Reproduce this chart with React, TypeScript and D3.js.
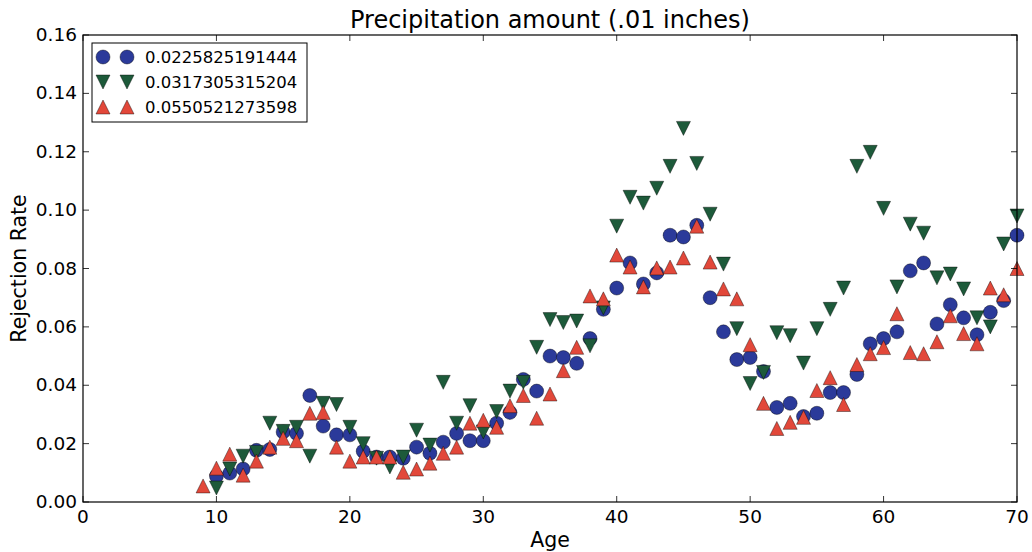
import React from "react";
import { scaleLinear, range } from "d3";

const ages = range(9, 71);

// null = no point at that age
const seriesBlue = [
  null, 0.0089, 0.0099, 0.0113, 0.0177, 0.018, 0.024, 0.0235, 0.0365, 0.026,
  0.023, 0.023, 0.0174, 0.0154, 0.0154, 0.015, 0.0188, 0.0167, 0.0205, 0.0235,
  0.021, 0.021, 0.027, 0.0307, 0.042, 0.038, 0.05, 0.0495, 0.0475, 0.056,
  0.066, 0.0733, 0.0819, 0.0747, 0.0785, 0.0914, 0.0908, 0.0948, 0.07, 0.0583,
  0.0488, 0.0495, 0.0447, 0.0324, 0.0338, 0.0293, 0.0304, 0.0375, 0.0375, 0.0437,
  0.0542, 0.056, 0.0583, 0.0792, 0.0819, 0.061, 0.0676, 0.0631, 0.0573, 0.065,
  0.069, 0.0914,
];
const seriesGreen = [
  null, 0.0048, 0.0113, 0.0157, 0.017, 0.027, 0.0242, 0.0256, 0.0157, 0.0338,
  0.0334, 0.0256, 0.02, 0.015, 0.012, 0.0154, 0.0246, 0.0195, 0.041, 0.027,
  0.033, 0.024, 0.031, 0.038, 0.041, 0.053, 0.0625, 0.0615, 0.062, 0.0535,
  0.0665, 0.0945, 0.1044, 0.1024, 0.1075, 0.115, 0.128, 0.116, 0.0986, 0.0815,
  0.0594, 0.0406, 0.0444, 0.058, 0.057, 0.0476, 0.0594, 0.066, 0.0733, 0.115,
  0.1198, 0.1006, 0.0737, 0.0952, 0.0921, 0.0768, 0.0781, 0.073, 0.0631, 0.06,
  0.0884, 0.098,
];
const seriesRed = [
  0.0055, 0.0116, 0.0164, 0.0092, 0.014, 0.0188, 0.0218, 0.021, 0.0304, 0.0307,
  0.0188, 0.014, 0.0154, 0.0154, 0.0154, 0.0102, 0.0113, 0.0133, 0.0167, 0.0188,
  0.027, 0.028, 0.0256, 0.033, 0.0365, 0.0287, 0.037, 0.045, 0.053, 0.0706,
  0.0696, 0.0846, 0.0805, 0.0737, 0.0802, 0.0805, 0.0836, 0.0945, 0.0822, 0.073,
  0.0696, 0.0539, 0.0338, 0.0252, 0.0273, 0.029, 0.0382, 0.0426, 0.0334, 0.0471,
  0.0508, 0.0529, 0.0645, 0.0512, 0.0508, 0.0549, 0.0638, 0.0577, 0.0542, 0.0733,
  0.071, 0.08,
];

const legendLabels = ["0.0225825191444", "0.0317305315204", "0.0550521273598"];
const xTicks = [0, 10, 20, 30, 40, 50, 60, 70];
const yTicks = [0, 0.02, 0.04, 0.06, 0.08, 0.1, 0.12, 0.14, 0.16];

const colors = ["#2b3a9a", "#1d5a3a", "#e2483a"];
const shapes = ["circle", "down", "up"];

const left = 83;
const right = 1017;
const top = 35;
const bottom = 502;
const font = "DejaVu Sans, sans-serif";

const Marker = ({ shape, x, y, color }: { shape: string; x: number; y: number; color: string }) => {
  const s = 7;
  if (shape === "circle") {
    return <circle cx={x} cy={y} r={7} fill={color} stroke="#000" strokeWidth={0.4} />;
  }
  const d =
    shape === "down"
      ? `M${x - s},${y - s}L${x + s},${y - s}L${x},${y + s}Z`
      : `M${x},${y - s}L${x - s},${y + s}L${x + s},${y + s}Z`;
  return <path d={d} fill={color} stroke="#000" strokeWidth={0.4} />;
};

export default function App() {
  const x = scaleLinear().domain([0, 70]).range([left, right]);
  const y = scaleLinear().domain([0, 0.16]).range([bottom, top]);
  const allSeries = [seriesBlue, seriesGreen, seriesRed];

  return (
    <svg
      width={1032}
      height={552}
      style={{ position: "absolute", left: 0, top: 0, background: "#fff" }}
      fontFamily={font}
    >
      <rect width={1032} height={552} fill="#fff" />

      {allSeries.map((series, si) =>
        series.map((v, i) =>
          v == null ? null : (
            <Marker key={`${si}-${i}`} shape={shapes[si]} x={x(ages[i])} y={y(v)} color={colors[si]} />
          )
        )
      )}

      {/* ticks, inside, on all four sides */}
      {xTicks.map((t) => (
        <g key={`xt${t}`}>
          <line x1={x(t)} x2={x(t)} y1={bottom} y2={bottom - 6} stroke="#000" strokeWidth={0.8} />
          <line x1={x(t)} x2={x(t)} y1={top} y2={top + 6} stroke="#000" strokeWidth={0.8} />
          <text x={x(t)} y={bottom + 21} fontSize={18.5} textAnchor="middle">
            {t}
          </text>
        </g>
      ))}
      {yTicks.map((t) => (
        <g key={`yt${t}`}>
          <line x1={left} x2={left + 6} y1={y(t)} y2={y(t)} stroke="#000" strokeWidth={0.8} />
          <line x1={right} x2={right - 6} y1={y(t)} y2={y(t)} stroke="#000" strokeWidth={0.8} />
          <text x={left - 6} y={y(t) + 6} fontSize={18.5} textAnchor="end">
            {t.toFixed(2)}
          </text>
        </g>
      ))}

      <rect x={left} y={top} width={right - left} height={bottom - top} fill="none" stroke="#000" strokeWidth={1.2} />

      {/* legend */}
      <rect x={92} y={43} width={215} height={79} fill="#fff" stroke="#000" strokeWidth={1} />
      {legendLabels.map((label, i) => (
        <g key={label}>
          <Marker shape={shapes[i]} x={103} y={57 + i * 25} color={colors[i]} />
          <Marker shape={shapes[i]} x={127} y={57 + i * 25} color={colors[i]} />
          <text x={145} y={57 + i * 25 + 6} fontSize={16.5}>
            {label}
          </text>
        </g>
      ))}

      <text x={(left + right) / 2} y={28} fontSize={24} textAnchor="middle">
        Precipitation amount (.01 inches)
      </text>
      <text x={(left + right) / 2} y={547} fontSize={20.5} textAnchor="middle">
        Age
      </text>
      <text
        transform={`translate(26, ${(top + bottom) / 2}) rotate(-90)`}
        fontSize={20.5}
        textAnchor="middle"
      >
        Rejection Rate
      </text>
    </svg>
  );
}
